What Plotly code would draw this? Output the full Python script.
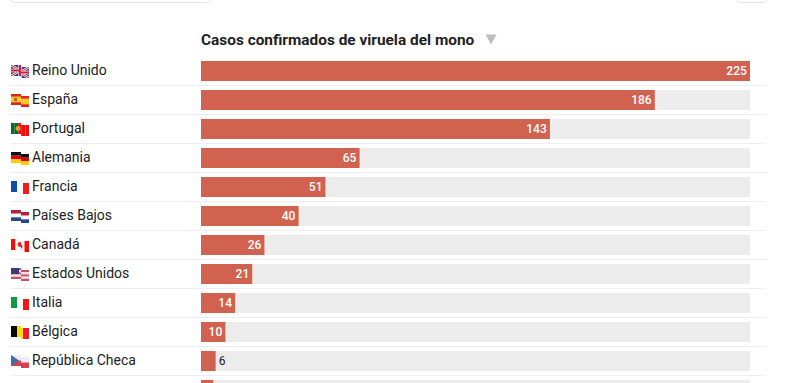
import base64
import plotly.graph_objects as go

W, H = 796, 383

countries = ["Reino Unido", "España", "Portugal", "Alemania", "Francia", "Países Bajos",
             "Canadá", "Estados Unidos", "Italia", "Bélgica", "República Checa", "Suiza"]
cases = [225, 186, 143, 65, 51, 40, 26, 21, 14, 10, 6, 5]
title = "Casos confirmados de viruela del mono"
flag_keys = ["gb", "es", "pt", "de", "fr", "nl", "ca", "us", "it", "be", "cz"]

TRACK = max(cases)
X0, X1 = 201, 750
PX_PER_UNIT = (X1 - X0) / TRACK
ROW0, PITCH, BAR_H = 71, 29, 20

px = lambda v: v / W
py = lambda v: 1 - v / H


def hstripes(cols):
    h = 11 / len(cols)
    return "".join(f'<rect x="0" y="{i*h}" width="18" height="{h+0.05}" fill="{c}"/>' for i, c in enumerate(cols))


def vstripes(cols):
    w = 18 / len(cols)
    return "".join(f'<rect x="{i*w}" y="0" width="{w+0.05}" height="11" fill="{c}"/>' for i, c in enumerate(cols))


flags = {
    "gb": '<rect width="18" height="11" fill="#3b3f8f"/>'
          '<path d="M0 0L18 11M18 0L0 11" stroke="#f4e4e8" stroke-width="2.4"/>'
          '<path d="M0 0L18 11M18 0L0 11" stroke="#c8304a" stroke-width="1"/>'
          '<path d="M9 0V11M0 5.5H18" stroke="#f4e4e8" stroke-width="3.4"/>'
          '<path d="M9 0V11M0 5.5H18" stroke="#c8203a" stroke-width="2"/>',
    "es": hstripes(["#e0241c", "#f6c21c", "#f6c21c", "#e0241c"]) + '<rect x="3" y="4" width="3" height="3" fill="#b5651d"/>',
    "pt": vstripes(["#0a6a35", "#0a6a35", "#f00f0f", "#f00f0f", "#f00f0f"]) + '<circle cx="7" cy="5.5" r="2.4" fill="#d9a13a"/>',
    "de": hstripes(["#111111", "#e00000", "#ffce00"]),
    "fr": vstripes(["#0f4fa8", "#f6f6f8", "#f51a1a"]),
    "nl": hstripes(["#b02238", "#f8f4f4", "#24488f"]),
    "ca": vstripes(["#f01010", "#f8f8f8", "#f8f8f8", "#f01010"]) + '<circle cx="9" cy="5.5" r="2.4" fill="#e82020"/>',
    "us": hstripes(["#c9506a", "#f3dfe4", "#c9506a", "#f3dfe4", "#c9506a"]) + '<rect width="8" height="6" fill="#3c3b7a"/>',
    "it": vstripes(["#0f9a48", "#f6f6f6", "#f01818"]),
    "be": vstripes(["#0a0a0a", "#ffd90c", "#f31830"]),
    "cz": '<rect width="18" height="5.5" fill="#f0edf2"/><rect y="5.5" width="18" height="5.5" fill="#d9404f"/>'
          '<path d="M0 0L8 5.5L0 11Z" fill="#3f6ea8"/>',
}


def flag_uri(key):
    body = flags[key]
    svg = ('<svg xmlns="http://www.w3.org/2000/svg" width="18" height="13" viewBox="0 0 18 13">'
           '<defs><clipPath id="a"><path d="M0 0H10V11H0Z"/></clipPath>'
           '<clipPath id="b"><path d="M10 0H18V11H10Z"/></clipPath></defs>'
           f'<g clip-path="url(#a)">{body}</g>'
           f'<g transform="translate(0 2)" clip-path="url(#b)">{body}</g></svg>')
    return "data:image/svg+xml;base64," + base64.b64encode(svg.encode()).decode()


fig = go.Figure()
fig.add_bar(y=countries, x=[TRACK] * len(countries), orientation="h",
            marker=dict(color="#ECECEC", line_width=0), width=BAR_H / PITCH, hoverinfo="skip")
fig.add_bar(y=countries, x=cases, orientation="h",
            marker=dict(color="#D26250", line_width=0), width=BAR_H / PITCH,
            text=[str(v) if i < 11 else "" for i, v in enumerate(cases)],
            textposition=["inside" if v >= 10 else "outside" for v in cases],
            textangle=0,
            insidetextanchor="end", constraintext="none", cliponaxis=False,
            insidetextfont=dict(family="Roboto", size=12, color="white", weight=500),
            outsidetextfont=dict(family="Roboto", size=12, color="#222222"))

annotations = [dict(x=px(X0 - 2), y=py(40), xref="paper", yref="paper", text=f"<b>{title}</b>",
                    xanchor="left", yanchor="middle", showarrow=False,
                    font=dict(family="Roboto", size=15.4, color="#222222"))]
images, shapes = [], []
for i, key in enumerate(flag_keys):
    c = ROW0 + i * PITCH
    annotations.append(dict(x=px(30), y=py(c - 1), xref="paper", yref="paper", text=countries[i],
                            xanchor="left", yanchor="middle", showarrow=False,
                            font=dict(family="Roboto", size=14, color="#222222")))
    images.append(dict(source=flag_uri(key), xref="paper", yref="paper", x=px(11), y=py(c - 6),
                       sizex=px(18), sizey=13 / H, sizing="stretch", xanchor="left", yanchor="top", layer="above"))
    shapes.append(dict(type="line", xref="paper", yref="paper", x0=px(11), x1=px(766),
                       y0=py(c + 14.5), y1=py(c + 14.5), line=dict(color="#EEEEEE", width=1)))

shapes.append(dict(type="path", xref="paper", yref="paper", fillcolor="#BDBDBD", line_width=0,
                   path=f"M {px(485.5)} {py(34.5)} L {px(496.5)} {py(34.5)} L {px(491)} {py(44.5)} Z"))
for a, b in [(11.5, 210.5), (737, 766)]:
    shapes.append(dict(type="path", xref="paper", yref="paper", fillcolor="white",
                       line=dict(color="#E4E4E4", width=1),
                       path=f"M {px(a)} {py(-6)} L {px(a)} {py(0)} Q {px(a)} {py(2.5)} {px(a+3)} {py(2.5)} "
                            f"L {px(b-3)} {py(2.5)} Q {px(b)} {py(2.5)} {px(b)} {py(0)} L {px(b)} {py(-6)} Z"))

fig.update_layout(
    width=W, height=H, autosize=False, margin=dict(l=0, r=0, t=0, b=0),
    paper_bgcolor="white", plot_bgcolor="rgba(0,0,0,0)", barmode="overlay", showlegend=False,
    annotations=annotations, images=images, shapes=shapes,
    xaxis=dict(range=[-X0 / PX_PER_UNIT, (W - X0) / PX_PER_UNIT], visible=False, fixedrange=True),
    yaxis=dict(type="category", categoryorder="array", categoryarray=countries,
               range=[(H - ROW0) / PITCH, -ROW0 / PITCH], visible=False, fixedrange=True),
)
fig.write_html("out.html", config=dict(displayModeBar=False),
               post_script="document.documentElement.style.overflow='hidden';document.body.style.margin='0';")
